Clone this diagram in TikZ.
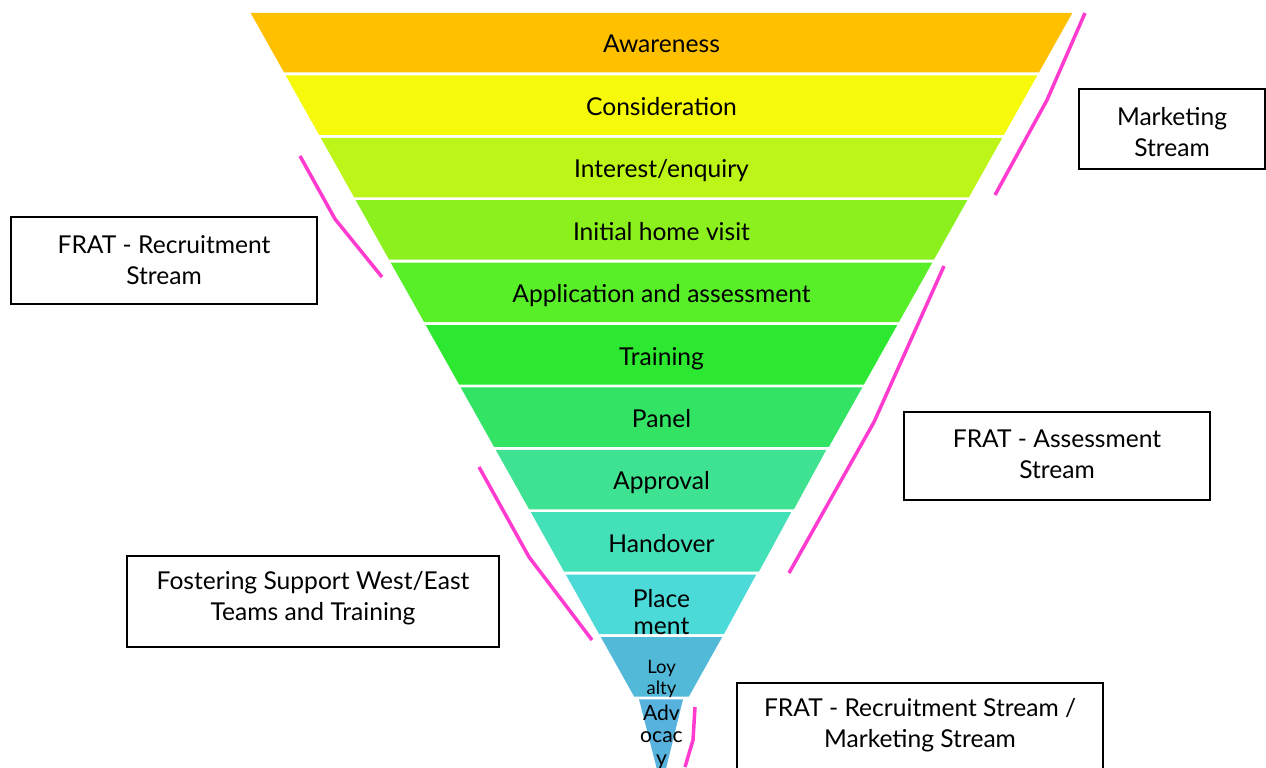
\documentclass[tikz,border=0pt]{standalone}
\usepackage{fontspec}
\setmainfont{Lato}
\usepackage{xcolor}
\usepackage{tikz}
\usetikzlibrary{positioning}

\definecolor{awarenessC}{HTML}{FFC000}
\definecolor{considerationC}{HTML}{F7F90A}
\definecolor{interestC}{HTML}{BEF518}
\definecolor{homevisitC}{HTML}{8BF01E}
\definecolor{applicationC}{HTML}{58EE28}
\definecolor{trainingC}{HTML}{2CE830}
\definecolor{panelC}{HTML}{33E464}
\definecolor{approvalC}{HTML}{3EE290}
\definecolor{handoverC}{HTML}{44E0B8}
\definecolor{placementC}{HTML}{4BDAD8}
\definecolor{loyaltyC}{HTML}{52B9D9}
\definecolor{advocacyC}{HTML}{57B2DD}
\definecolor{streampink}{HTML}{FF3CCF}

\begin{document}
\begin{tikzpicture}[
    x=0.02cm, y=-0.02cm,
    bandtext/.style={align=center, inner sep=0pt, font=\fontsize{14}{15.9}\selectfont},
    streambox/.style={rectangle, draw, line width=1.1pt, fill=white, minimum height=1.75cm},
    streamtext/.style={align=center, inner sep=0pt, font=\fontsize{14}{17.6}\selectfont},
    bracket/.style={draw=streampink, line width=2pt}
]
\useasboundingbox (0,0) rectangle (1266,767);
\clip (0,0) rectangle (1266,767);

% Funnel bands
\fill[awarenessC] (250.7,13) -- (1072.3,13) -- (1038.9,72.5) -- (284.1,72.5) -- cycle;
\fill[considerationC] (285.7,75.4) -- (1037.3,75.4) -- (1003.9,134.9) -- (319.1,134.9) -- cycle;
\fill[interestC] (320.7,137.8) -- (1002.3,137.8) -- (968.9,197.3) -- (354.1,197.3) -- cycle;
\fill[homevisitC] (355.7,200.2) -- (967.3,200.2) -- (933.9,259.7) -- (389.1,259.7) -- cycle;
\fill[applicationC] (390.7,262.6) -- (932.3,262.6) -- (898.9,322.1) -- (424.1,322.1) -- cycle;
\fill[trainingC] (425.7,325.0) -- (897.3,325.0) -- (863.9,384.5) -- (459.1,384.5) -- cycle;
\fill[panelC] (460.7,387.4) -- (862.3,387.4) -- (828.9,446.9) -- (494.1,446.9) -- cycle;
\fill[approvalC] (495.7,449.8) -- (826.3,449.8) -- (793.9,509.3) -- (529.1,509.3) -- cycle;
\fill[handoverC] (530.8,512.2) -- (791.2,512.2) -- (758.9,571.7) -- (564.1,571.7) -- cycle;
\fill[placementC] (565.8,574.6) -- (756.2,574.6) -- (723.9,634.1) -- (599.1,634.1) -- cycle;
\fill[loyaltyC] (600.8,637.0) -- (722.2,637.0) -- (688.9,696.5) -- (634.1,696.5) -- cycle;
\fill[advocacyC] (639,699.4) -- (683,699.4) -- (661.5,787) -- cycle;

% Band labels
\node[bandtext, anchor=base] (awareness) at (661.5,53) {Awareness};
\node[bandtext, anchor=base] (consideration) at (661.5,115.4) {Consideration};
\node[bandtext, anchor=base] (interest) at (661.5,177.8) {Interest/enquiry};
\node[bandtext, anchor=base] (homevisit) at (661.5,240.2) {Initial home visit};
\node[bandtext, anchor=base] (application) at (661.5,302.6) {Application and assessment};
\node[bandtext, anchor=base] (training) at (661.5,365) {Training};
\node[bandtext, anchor=base] (panel) at (661.5,427.4) {Panel};
\node[bandtext, anchor=base] (approval) at (661.5,489.8) {Approval};
\node[bandtext, anchor=base] (handover) at (661.5,552.2) {Handover};
\node[bandtext] (placement) at (661.5,612) {Place\\ment};
\node[bandtext, font=\fontsize{10.5}{11.9}\selectfont] (loyalty) at (661.5,679) {Loy\\alty};
\node[bandtext, font=\fontsize{12}{13}\selectfont] (advocacy) at (661.5,737) {Adv\\ocac\\y};

% Stream boxes
\node[streambox, minimum width=3.72cm, minimum height=1.6cm] (marketing) at (1172,129) {};
\node[streamtext] (marketing-text) at (1172,132) {Marketing\\Stream};
\node[streambox, minimum width=6.12cm, minimum height=1.74cm] (recruitment) at (164,260.5) {};
\node[streamtext] (recruitment-text) at (164,260) {FRAT - Recruitment\\Stream};
\node[streambox, minimum width=6.12cm, minimum height=1.76cm] (assessment) at (1057,456) {};
\node[streamtext] (assessment-text) at (1057,454) {FRAT - Assessment\\Stream};
\node[streambox, minimum width=7.44cm, minimum height=1.82cm] (fostering) at (313,601.5) {};
\node[streamtext] (fostering-text) at (313,598) {Fostering Support West/East\\Teams and Training};
\node[streambox, minimum width=7.32cm, minimum height=2.4cm, anchor=north] (mixed) at (920,682) {};
\node[streamtext] (mixed-text) at (920,725) {FRAT - Recruitment Stream /\\Marketing Stream};

% Stream brackets
\draw[bracket] (1085,13) -- (1047,100) -- (995,195);
\draw[bracket] (300,156) -- (335,219) -- (382,277);
\draw[bracket] (944,266) -- (874,422) -- (789,573);
\draw[bracket] (479,467) -- (529,557) -- (592,640);
\draw[bracket] (695,707) -- (693,740) -- (685,767);

\end{tikzpicture}
\end{document}
